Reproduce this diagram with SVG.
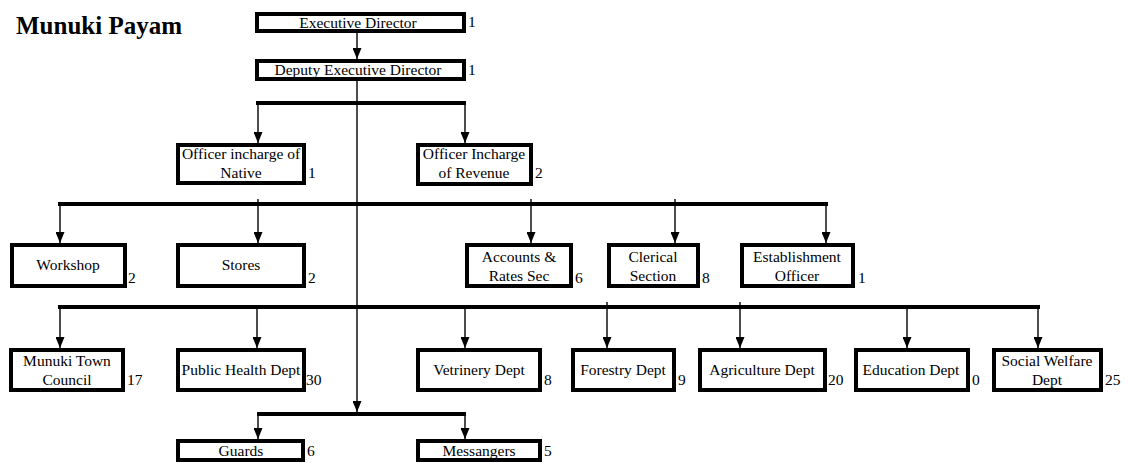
<svg xmlns="http://www.w3.org/2000/svg" width="1128" height="463" viewBox="0 0 1128 463">
  <style>
    .box { fill: #ffffff; stroke: #000000; stroke-width: 4; }
    .lbl { font-family: "Liberation Serif", "Times New Roman", serif; font-size: 15.5px; fill: #000000; text-anchor: middle; }
    .num { font-family: "Liberation Serif", "Times New Roman", serif; font-size: 15.5px; fill: #000000; }
    .bar { stroke: #000000; stroke-width: 4; fill: none; }
    .arr { stroke: #000000; stroke-width: 1.4; fill: none; marker-end: url(#head); }
    .title { font-family: "Liberation Serif", "Times New Roman", serif; font-size: 25px; font-weight: bold; fill: #000000; }
  </style>
  <defs>
    <marker id="head" markerUnits="userSpaceOnUse" markerWidth="11" markerHeight="9" viewBox="0 0 11 9" refX="11" refY="4.5" orient="auto">
      <path d="M0,0 L11,4.5 L0,9 Z" fill="#000000"/>
    </marker>
  </defs>
  <rect width="1128" height="463" fill="#ffffff"/>

  <text class="title" x="16" y="34">Munuki Payam</text>

  <!-- connectors -->
  <g id="connectors">
    <line class="arr" x1="357" y1="33" x2="357" y2="59"/>
    <!-- main trunk down to the guards bar -->
    <line class="arr" x1="357" y1="81" x2="357" y2="412"/>
    <!-- bar 1 -->
    <line class="bar" x1="256" y1="103" x2="466" y2="103"/>
    <line class="arr" x1="258" y1="103" x2="258" y2="143"/>
    <line class="arr" x1="465" y1="103" x2="465" y2="143"/>
    <!-- bar 2 -->
    <line class="bar" x1="58" y1="204" x2="828" y2="204"/>
    <line class="arr" x1="60" y1="204" x2="60" y2="243"/>
    <line class="arr" x1="258" y1="199" x2="258" y2="243"/>
    <line class="arr" x1="531" y1="199" x2="531" y2="243"/>
    <line class="arr" x1="675" y1="199" x2="675" y2="243"/>
    <line class="arr" x1="826" y1="204" x2="826" y2="243"/>
    <!-- bar 3 -->
    <line class="bar" x1="58" y1="307" x2="1040" y2="307"/>
    <line class="arr" x1="60" y1="307" x2="60" y2="348"/>
    <line class="arr" x1="257" y1="307" x2="257" y2="348"/>
    <line class="arr" x1="465" y1="307" x2="465" y2="348"/>
    <line class="arr" x1="607" y1="302" x2="607" y2="348"/>
    <line class="arr" x1="740" y1="302" x2="740" y2="348"/>
    <line class="arr" x1="907" y1="307" x2="907" y2="348"/>
    <line class="arr" x1="1038" y1="307" x2="1038" y2="348"/>
    <!-- guards bar -->
    <line class="bar" x1="257" y1="414" x2="466" y2="414"/>
    <line class="arr" x1="258" y1="414" x2="258" y2="439"/>
    <line class="arr" x1="465" y1="414" x2="465" y2="439"/>
  </g>

  <g id="executive-director">
    <rect class="box" x="257" y="14" width="207" height="17"/>
    <text class="lbl" x="358" y="28">Executive Director</text>
    <text class="num" x="468" y="27">1</text>
  </g>
  <g id="deputy-executive-director">
    <rect class="box" x="257" y="61" width="207" height="18"/>
    <text class="lbl" x="358" y="75">Deputy Executive Director</text>
    <text class="num" x="468" y="75">1</text>
  </g>

  <g id="officer-native">
    <rect class="box" x="178" y="145" width="126" height="38"/>
    <text class="lbl" x="241" y="159">Officer incharge of</text>
    <text class="lbl" x="241" y="178">Native</text>
    <text class="num" x="308" y="178">1</text>
  </g>
  <g id="officer-revenue">
    <rect class="box" x="418" y="145" width="113" height="39"/>
    <text class="lbl" x="474" y="159">Officer Incharge</text>
    <text class="lbl" x="474" y="178">of Revenue</text>
    <text class="num" x="535" y="178">2</text>
  </g>

  <g id="workshop">
    <rect class="box" x="12" y="245" width="113" height="41"/>
    <text class="lbl" x="68" y="270">Workshop</text>
    <text class="num" x="128" y="283">2</text>
  </g>
  <g id="stores">
    <rect class="box" x="178" y="245" width="126" height="41"/>
    <text class="lbl" x="241" y="270">Stores</text>
    <text class="num" x="308" y="283">2</text>
  </g>
  <g id="accounts">
    <rect class="box" x="467" y="245" width="104" height="41"/>
    <text class="lbl" x="519" y="262">Accounts &amp;</text>
    <text class="lbl" x="519" y="281">Rates Sec</text>
    <text class="num" x="575" y="283">6</text>
  </g>
  <g id="clerical">
    <rect class="box" x="609" y="245" width="89" height="41"/>
    <text class="lbl" x="653" y="262">Clerical</text>
    <text class="lbl" x="653" y="281">Section</text>
    <text class="num" x="702" y="283">8</text>
  </g>
  <g id="establishment">
    <rect class="box" x="742" y="245" width="111" height="41"/>
    <text class="lbl" x="797" y="262">Establishment</text>
    <text class="lbl" x="797" y="281">Officer</text>
    <text class="num" x="858" y="283">1</text>
  </g>

  <g id="town-council">
    <rect class="box" x="11" y="350" width="112" height="40"/>
    <text class="lbl" x="67" y="366">Munuki Town</text>
    <text class="lbl" x="67" y="385">Council</text>
    <text class="num" x="127" y="385">17</text>
  </g>
  <g id="public-health">
    <rect class="box" x="178" y="350" width="126" height="40"/>
    <text class="lbl" x="241" y="375">Public Health Dept</text>
    <text class="num" x="306" y="385">30</text>
  </g>
  <g id="vetrinery">
    <rect class="box" x="418" y="350" width="122" height="40"/>
    <text class="lbl" x="479" y="375">Vetrinery Dept</text>
    <text class="num" x="544" y="385">8</text>
  </g>
  <g id="forestry">
    <rect class="box" x="573" y="350" width="101" height="40"/>
    <text class="lbl" x="623" y="375">Forestry Dept</text>
    <text class="num" x="678" y="385">9</text>
  </g>
  <g id="agriculture">
    <rect class="box" x="700" y="350" width="125" height="40"/>
    <text class="lbl" x="762" y="375">Agriculture Dept</text>
    <text class="num" x="828" y="385">20</text>
  </g>
  <g id="education">
    <rect class="box" x="856" y="350" width="112" height="40"/>
    <text class="lbl" x="911" y="375">Education Dept</text>
    <text class="num" x="972" y="385">0</text>
  </g>
  <g id="social-welfare">
    <rect class="box" x="994" y="350" width="107" height="40"/>
    <text class="lbl" x="1047" y="366">Social Welfare</text>
    <text class="lbl" x="1047" y="385">Dept</text>
    <text class="num" x="1105" y="385">25</text>
  </g>

  <g id="guards">
    <rect class="box" x="178" y="441" width="125" height="19"/>
    <text class="lbl" x="241" y="456">Guards</text>
    <text class="num" x="307" y="456">6</text>
  </g>
  <g id="messangers">
    <rect class="box" x="418" y="441" width="122" height="19"/>
    <text class="lbl" x="479" y="456">Messangers</text>
    <text class="num" x="544" y="456">5</text>
  </g>
</svg>
